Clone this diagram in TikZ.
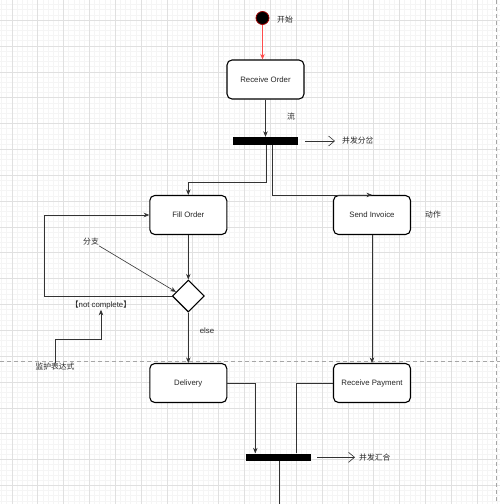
\documentclass[tikz,border=0pt]{standalone}
\usepackage{fontspec}
\setmainfont{Liberation Sans}
\newfontfamily\cjk{Noto Sans CJK SC}
\usepackage{tikz}
\usetikzlibrary{positioning,arrows.meta,shapes.geometric,calc}

\begin{document}
\begin{tikzpicture}[x=1pt,y=-1pt,
  font=\fontsize{7.8}{9}\selectfont,
  action/.style={draw=black,line width=1.1pt,rounded corners=5pt,fill=white,minimum width=77pt,minimum height=39pt,text=black!85},
  bar/.style={fill=black,minimum width=65pt,minimum height=8pt,inner sep=0pt},
  branch/.style={diamond,draw=black,line width=1.1pt,fill=white,minimum width=32pt,minimum height=32pt,inner sep=0pt},
  link/.style={draw=black!80,line width=0.6pt},
  flow/.style={link,-{Stealth[length=5.5pt,width=4.5pt]}},
  note/.style={link,-{Straight Barb[length=6pt,width=10pt]}},
  lbl/.style={inner sep=0pt,text=black!85},
  minor/.style={black!4,line width=0.4pt},
  major/.style={black!12,line width=0.4pt},
  lane/.style={black!35,line width=0.6pt,dash pattern=on 4pt off 3pt}]
\useasboundingbox (0,0) rectangle (500,504);
\fill[white] (0,0) rectangle (500,504);
\foreach \i in {0,...,97}{
  \draw[minor] ({1.36+5.17*\i},0) -- ++(0,504);
  \draw[minor] (0,{4.49+5.17*\i}) -- ++(500,0);
}
\foreach \j in {0,...,18}{
  \draw[major] ({11.7+25.85*\j},0) -- ++(0,504);
  \draw[major] (0,{20+25.85*\j}) -- ++(500,0);
}
\draw[lane] (0,361) -- (500,361);
\draw[lane] (496.5,0) -- (496.5,504);

\node[circle,fill=black,draw=red!60!black,line width=0.8pt,minimum size=13pt,inner sep=0pt] (start) at (262.5,18) {};
\node[lbl,anchor=west] (startl) at (277,20) {\cjk 开始};
\node[action] (recv) at (265.5,79.5) {Receive Order};
\node[lbl] (flowl) at (291,117) {\cjk 流};
\node[bar] (fork) at (265.5,141) {};
\coordinate (forkend) at (335,141);
\node[lbl,anchor=west] (forkl) at (342,141) {\cjk 并发分岔};
\node[action] (fill) at (188.3,215) {Fill Order};
\node[action] (send) at (372,215) {Send Invoice};
\node[lbl] (actl) at (433,215) {\cjk 动作};
\node[branch] (dec) at (188.3,296) {};
\node[lbl] (brl) at (91,242) {\cjk 分支};
\node[lbl] (guard) at (101,305.5) {{\cjk 【}not complete{\cjk 】}};
\node[lbl] (guardl) at (55,367) {\cjk 监护表达式};
\node[lbl] (elsel) at (207,331) {else};
\node[action] (deliv) at (188.3,383) {Delivery};
\node[action] (pay) at (372,383) {Receive Payment};
\node[bar,minimum height=7.5pt] (join) at (278.3,457.3) {};
\coordinate (joinend) at (355,457.3);
\node[lbl,anchor=west] (joinl) at (359,458) {\cjk 并发汇合};
\coordinate (exit) at (279,504);

\draw[flow,draw=red!70] (start) -- (start |- recv.north);
\draw[flow] (recv) -- (fork);
\draw[note] ([xshift=7pt]fork.east) -- (forkend);
\draw[flow] ([xshift=0.5pt]fork.south) -- ++(0,37) -| (fill.north);
\draw[flow] ([xshift=6.5pt]fork.south) |- (send.north);
\draw[flow] (fill) -- (dec);
\draw[flow] (dec.west) -- ++(-127,0) |- (fill.west);
\draw[flow] (brl.south east) -- ($(dec.west)!0.25!(dec.north)$);
\draw[flow] (guardl.north) -- ++(0,-24) -| (guard.south);
\draw[flow] (dec) -- (deliv);
\draw[flow] (send) -- (pay);
\draw[flow] (deliv.east) -| ([xshift=-23pt]join.north);
\draw[link] (pay.west) -| ([xshift=17.5pt]join.north);
\draw[note] ([xshift=6pt]join.east) -- (joinend);
\draw[link] ([xshift=0.7pt]join.south) -- (exit);
\end{tikzpicture}
\end{document}
